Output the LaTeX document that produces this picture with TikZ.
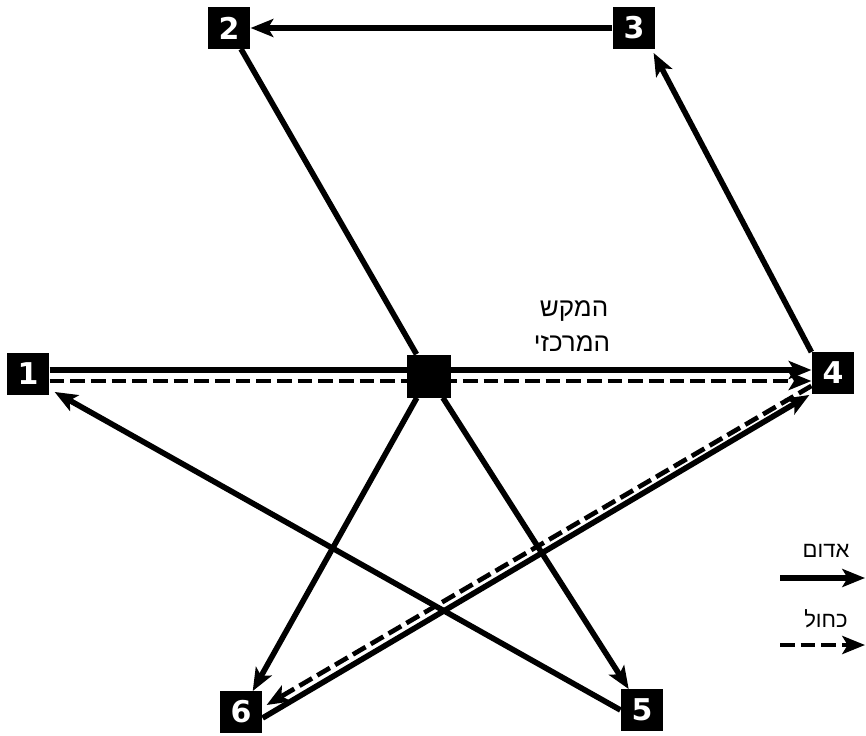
\documentclass[tikz,border=0pt]{standalone}
\usepackage{fontspec}
\newfontfamily\hebfont[Script=Hebrew]{Liberation Sans}
\newfontfamily\numfont{DejaVu Sans}
\TeXXeTstate=1
\usetikzlibrary{arrows.meta}
\pgfdeclarelayer{bg}
\pgfsetlayers{bg,main}
\begin{document}
\begin{tikzpicture}[x=0.75pt,y=-0.75pt,
  box/.style={fill=black, draw=none, minimum width=32pt, minimum height=31pt, inner sep=0pt,
    text=white, font=\numfont\bfseries\fontsize{22.5}{22.5}\selectfont},
  hub/.style={fill=black, draw=none, minimum width=33pt, minimum height=32.25pt, inner sep=0pt},
  heb/.style={font=\hebfont\fontsize{19.5}{22}\selectfont, inner sep=0pt},
  hebsmall/.style={font=\hebfont\fontsize{16.5}{20}\selectfont, inner sep=0pt},
  tipA/.style={-{Stealth[length=17pt,width=13.5pt,inset=4pt]}},
  redline/.style={line width=4.2pt, tipA},
  plainline/.style={line width=4.2pt},
  blueline/.style={line width=3.5pt, dash pattern=on 11pt off 4.5pt, tipA}
]
\useasboundingbox (0,0) rectangle (866,735);

\node[box] (n1) at (28,374) {1};
\node[box] (n2) at (229,28) {2};
\node[box] (n3) at (634,28) {3};
\node[box] (n4) at (833,373) {4};
\node[box] (n5) at (642,710) {5};
\node[box] (n6) at (241,712) {6};
\node[hub] (nc) at (429,376) {};

\node[heb] (t1) at (574,311) {\beginR המקש\endR};
\node[heb] (t2) at (572,344) {\beginR המרכזי\endR};

\node[hebsmall] (l1) at (826,551) {\beginR אדום\endR};
\node[hebsmall] (l2) at (826,619) {\beginR כחול\endR};
\coordinate (la1) at (780,578);
\coordinate (la2) at (865,578);
\coordinate (lb1) at (780,645);
\coordinate (lb2) at (865,645);

\begin{pgfonlayer}{bg}
\draw[redline] (n3) -- (n2);
\draw[plainline] (n2) -- (nc);
\draw[redline] (n4.north west) -- ([shift={(-2,4)}]n3.south east);
\draw[redline] ([shift={(0,-4)}]n1.east) -- ([shift={(0,-3)}]n4.west);
\draw[blueline] ([shift={(0,7)}]n1.east) -- ([shift={(0,8)}]n4.west);
\draw[redline] (nc) -- (n6);
\draw[redline] (nc) -- (n5);
\draw[redline] (n5.west) -- ([shift={(5,-3)}]n1.south east);
\draw[redline] ([shift={(0,6)}]n6.east) -- ([shift={(-2,1)}]n4.south west);
\draw[blueline] ([shift={(0,-8)}]n4.south west) -- ([shift={(4,-7)}]n6.east);
\draw[redline] (la1) -- (la2);
\draw[blueline] (lb1) -- (lb2);
\end{pgfonlayer}
\end{tikzpicture}
\end{document}
